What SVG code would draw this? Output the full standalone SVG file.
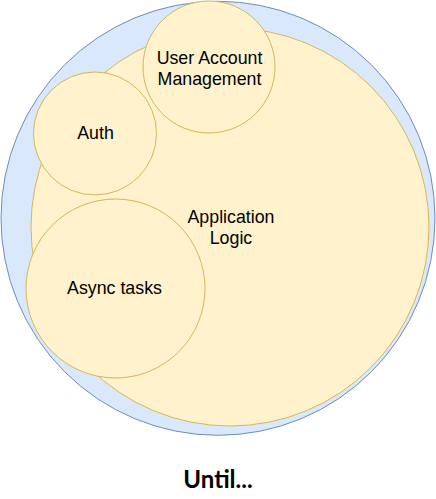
<svg xmlns="http://www.w3.org/2000/svg" width="436" height="499" viewBox="0 0 436 499">
<style>
.blue{fill:#dae8fc;stroke:#6c8ebf;stroke-width:1}
.yel{fill:#fff2cc;stroke:#d6b656;stroke-width:1}
.lbl{font-family:"Liberation Sans",Arial,sans-serif;font-size:17.8px;fill:#000;text-anchor:middle}
.title{font-family:Lato,"Liberation Sans",sans-serif;font-weight:bold;font-size:24px;fill:#000;text-anchor:middle}
</style>
<g id="outer"><circle class="blue" cx="218" cy="218.3" r="217"/></g>
<g id="app-logic"><circle class="yel" cx="230" cy="227" r="199"/>
<text class="lbl" x="231" y="222.5">Application</text>
<text class="lbl" x="231" y="244">Logic</text></g>
<g id="user-account"><circle class="yel" cx="209" cy="67" r="66"/>
<text class="lbl" x="209.5" y="63.5">User Account</text>
<text class="lbl" x="209.5" y="84.5">Management</text></g>
<g id="auth"><circle class="yel" cx="95" cy="133.5" r="61.5"/>
<text class="lbl" x="95.5" y="139">Auth</text></g>
<g id="async"><circle class="yel" cx="115.5" cy="288.5" r="89.5"/>
<text class="lbl" x="114.5" y="294">Async tasks</text></g>
<g id="connectors"></g>
<text class="title" x="218" y="488">Until...</text>
</svg>
